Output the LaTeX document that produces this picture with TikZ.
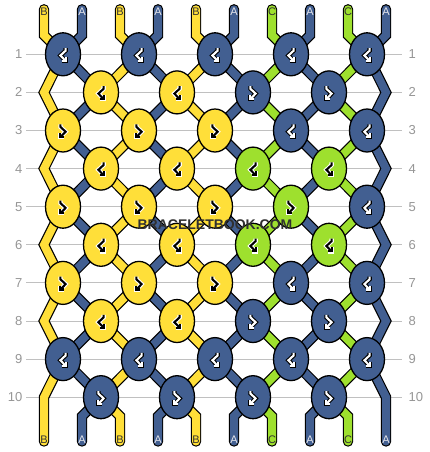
\documentclass[tikz,border=0pt]{standalone}
\usepackage{fontspec}
\setmainfont{Liberation Sans}
\usetikzlibrary{shapes.geometric}
\pgfdeclarelayer{grid}
\pgfdeclarelayer{bg}
\pgfsetlayers{grid,bg,main}
\definecolor{cA}{RGB}{66,95,145}
\definecolor{cB}{RGB}{255,223,57}
\definecolor{cC}{RGB}{158,224,46}
\colorlet{glyphA}{white}\colorlet{outA}{black}
\colorlet{glyphB}{black}\colorlet{outB}{white}
\colorlet{glyphC}{black}\colorlet{outC}{white}
\definecolor{labA}{RGB}{230,230,235}
\definecolor{labB}{RGB}{50,50,50}
\definecolor{labC}{RGB}{50,50,50}
\definecolor{rowgrey}{RGB}{192,192,192}
\definecolor{numgrey}{RGB}{150,150,150}
\definecolor{wmark}{RGB}{48,48,48}
\tikzset{
  knot/.style={ellipse, draw=black, line width=1.3pt, minimum width=35pt, minimum height=43pt, inner sep=0pt, fill=#1},
  strout/.style={draw=black, line width=10.4pt, line cap=round, line join=miter},
  strin/.style={draw=#1, line width=8pt, line cap=round, line join=miter},
  rowline/.style={draw=rowgrey, line width=1pt},
  rownum/.style={font=\fontsize{13}{13}\selectfont, text=numgrey, inner sep=0pt},
  strlabel/.style={font=\fontsize{11}{11}\selectfont, text=#1, inner sep=0pt},
  wmtext/.style={font=\bfseries\fontsize{14}{14}\selectfont, inner sep=0pt},
  glyphline/.style={line cap=square, line join=miter},
  pics/glyph/.style n args={3}{code={
    \begin{scope}[xscale=#1]
    \draw[#3, glyphline, line width=4.3pt] (-2.6,-6.2) -- (-2.6,-3.6) -- (2.6,1.2) -- (-2.6,6.6);
    \draw[#3, glyphline, line width=4.3pt] (-2.6,2.6) -- (-2.6,6.6) -- (1.4,6.6);
    \draw[#2, glyphline, line width=2.1pt] (-2.6,-6.2) -- (-2.6,-3.6) -- (2.6,1.2) -- (-2.6,6.6);
    \draw[#2, glyphline, line width=2.1pt] (-2.6,2.6) -- (-2.6,6.6) -- (1.4,6.6);
    \end{scope}
  }}
}
\newcommand\mkknot[4]{%
  \pgfmathsetmacro\kky{54.3+38.1*(#1-1)}%
  \pgfmathtruncatemacro\kkodd{mod(#1,2)}%
  \ifnum\kkodd=1
    \pgfmathsetmacro\kkx{63+76*#2}%
    \pgfmathtruncatemacro\kkpa{2*#2}\pgfmathtruncatemacro\kkpb{2*#2+1}%
  \else
    \pgfmathsetmacro\kkx{101+76*#2}%
    \pgfmathtruncatemacro\kkpa{2*#2+1}\pgfmathtruncatemacro\kkpb{2*#2+2}%
  \fi
  \node[knot=c#3, alias=s-#1-\kkpa, alias=s-#1-\kkpb] (k-#1-#2) at (\kkx,\kky) {};
  \pic at (k-#1-#2.center) {glyph={#4}{glyph#3}{out#3}};
}
\begin{document}
\begin{tikzpicture}[x=1pt,y=-1pt]
\useasboundingbox (0,0) rectangle (430,452);
\begin{pgfonlayer}{grid}
  \fill[white] (0,0) rectangle (430,452);
\end{pgfonlayer}
% row lines and numbers
\foreach \r in {1,...,10}{
  \pgfmathsetmacro\ry{54.3+38.1*(\r-1)}
  \coordinate (gl-\r) at (26,\ry);
  \coordinate (gr-\r) at (402,\ry);
  \begin{pgfonlayer}{grid}
    \draw[rowline] (gl-\r) -- (gr-\r);
  \end{pgfonlayer}
  \node[rownum, anchor=east] (nl-\r) at (22.5,\ry) {\r};
  \node[rownum, anchor=west] (nr-\r) at (408.5,\ry) {\r};
}
% edge points on even rows
\foreach \r in {2,4,...,10}{
  \pgfmathsetmacro\ry{54.3+38.1*(\r-1)}
  \coordinate (s-\r-0) at (44,\ry);
  \coordinate (s-\r-9) at (386,\ry);
}
% knots (1 = forward-backward glyph, -1 = backward-forward glyph)
\foreach \i in {0,...,4}{\mkknot{1}{\i}{A}{-1}}
\foreach \i/\c/\t in {0/B/-1,1/B/-1,2/A/1,3/A/1}{\mkknot{2}{\i}{\c}{\t}}
\foreach \i/\c/\t in {0/B/1,1/B/1,2/B/1,3/A/-1,4/A/-1}{\mkknot{3}{\i}{\c}{\t}}
\foreach \i/\c/\t in {0/B/-1,1/B/-1,2/C/-1,3/C/-1}{\mkknot{4}{\i}{\c}{\t}}
\foreach \i/\c/\t in {0/B/1,1/B/1,2/B/1,3/C/1,4/A/-1}{\mkknot{5}{\i}{\c}{\t}}
\foreach \i/\c/\t in {0/B/-1,1/B/-1,2/C/-1,3/C/-1}{\mkknot{6}{\i}{\c}{\t}}
\foreach \i/\c/\t in {0/B/1,1/B/1,2/B/1,3/A/-1,4/A/-1}{\mkknot{7}{\i}{\c}{\t}}
\foreach \i/\c/\t in {0/B/-1,1/B/-1,2/A/1,3/A/1}{\mkknot{8}{\i}{\c}{\t}}
\foreach \i in {0,...,4}{\mkknot{9}{\i}{A}{-1}}
\foreach \i in {0,...,3}{\mkknot{10}{\i}{A}{1}}
% strings
\foreach \p/\c in {0/B,1/A,2/B,3/A,4/B,5/A,6/C,7/A,8/C,9/A}{
  \pgfmathsetmacro\sx{44+38*\p}
  \coordinate (top-\p) at (\sx,9.3);
  \coordinate (tb-\p) at (\sx,35.3);
  \coordinate (bb-\p) at (\sx,416.2);
  \coordinate (bot-\p) at (\sx,441.5);
  \begin{pgfonlayer}{bg}
    \draw[strout] (top-\p) -- (tb-\p) \foreach \r in {1,...,10}{ -- (s-\r-\p.center)} -- (bb-\p) -- (bot-\p);
    \draw[strin=c\c] (top-\p) -- (tb-\p) \foreach \r in {1,...,10}{ -- (s-\r-\p.center)} -- (bb-\p) -- (bot-\p);
  \end{pgfonlayer}
  \node[strlabel=lab\c] (lt-\p) at (\sx,11.4) {\c};
  \node[strlabel=lab\c] (lb-\p) at (\sx,439.3) {\c};
}
% watermark
\node[wmtext, text=wmark] (wm) at (215,224.5) {BRACELETBOOK.COM};
\end{tikzpicture}
\end{document}
